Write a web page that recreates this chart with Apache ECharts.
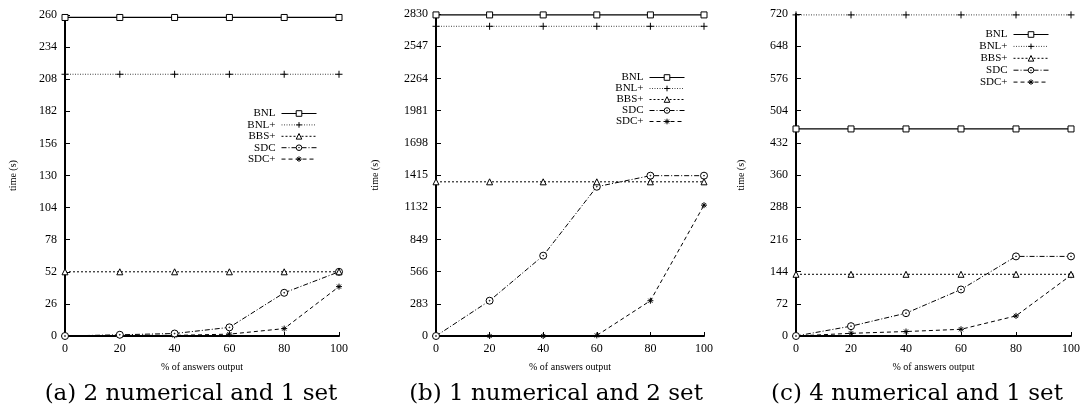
<!DOCTYPE html>
<html>
<head>
<meta charset="utf-8">
<script src="https://cdn.jsdelivr.net/npm/echarts@6/dist/echarts.min.js"></script>
<style>
html,body{margin:0;padding:0;background:#fff;}
#chart{width:1085px;height:414px;}
</style>
</head>
<body>
<div id="chart"></div>
<script>
// ---- data ----
const xValues = [0, 20, 40, 60, 80, 100];
const seriesNames = ['BNL', 'BNL+', 'BBS+', 'SDC', 'SDC+'];
const captions = ['(a) 2 numerical and 1 set', '(b) 1 numerical and 2 set', '(c) 4 numerical and 1 set'];
const xAxisTitle = '% of answers output';
const yAxisTitle = 'time (s)';

// panel (a)
const a_BNL  = [258, 258, 258, 258, 258, 258];
const a_BNLp = [212, 212, 212, 212, 212, 212];
const a_BBSp = [52, 52, 52, 52, 52, 52];
const a_SDC  = [0, 1, 2, 7, 35, 52];
const a_SDCp = [0, 0.5, 0.5, 1.5, 6, 40];
const a_yMax = 260, a_yStep = 26;

// panel (b)
const b_BNL  = [2822, 2822, 2822, 2822, 2822, 2822];
const b_BNLp = [2722, 2722, 2722, 2722, 2722, 2722];
const b_BBSp = [1355, 1355, 1355, 1355, 1355, 1355];
const b_SDC  = [0, 310, 706, 1312, 1409, 1409];
const b_SDCp = [0, 0, 0, 5, 310, 1150];
const b_yMax = 2830, b_yStep = 283;

// panel (c)
const c_BNL  = [463, 463, 463, 463, 463, 463];
const c_BNLp = [718, 718, 718, 718, 718, 718];
const c_BBSp = [138, 138, 138, 138, 138, 138];
const c_SDC  = [0, 22, 51, 104, 178, 178];
const c_SDCp = [0, 6, 10, 15, 45, 136];
const c_yMax = 720, c_yStep = 72;

// ---- styles ----
const SERIF = '"Liberation Serif", "Times New Roman", serif';
const symPlus = 'path://M5,0L5,10M0,5L10,5';
const symStar = 'path://M5,0L5,10M0,5L10,5M1.6,1.6L8.4,8.4M8.4,1.6L1.6,8.4';
const symCirc = 'path://M5,0A5,5,0,1,1,5,10A5,5,0,1,1,5,0ZM5,4.4A0.6,0.6,0,1,1,5,5.6A0.6,0.6,0,1,1,5,4.4Z';
const styles = [
  {symbol: 'rect', size: 6, line: {type: 'solid', width: 1.2, color: '#000'}},
  {symbol: symPlus, size: 7, line: {type: [1, 1.5], width: 1, color: '#444'}},
  {symbol: 'triangle', size: 6, line: {type: [2, 2], width: 1, color: '#000'}},
  {symbol: symCirc, size: 7, line: {type: [5, 2, 1, 2], width: 1, color: '#000'}},
  {symbol: symStar, size: 6, line: {type: [4, 3], width: 1, color: '#000'}}
];

const panels = [
  {data: [a_BNL, a_BNLp, a_BBSp, a_SDC, a_SDCp], yMax: a_yMax, yStep: a_yStep,
   grid: {left: 65, top: 15, width: 274, height: 321}, nameGap: 47,
   legend: {right: 768, top: 108, itemGap: 0.4}, capX: 186},
  {data: [b_BNL, b_BNLp, b_BBSp, b_SDC, b_SDCp], yMax: b_yMax, yStep: b_yStep,
   grid: {left: 436, top: 14, width: 268, height: 322}, nameGap: 56,
   legend: {right: 400, top: 72, itemGap: 0}, capX: 551},
  {data: [c_BNL, c_BNLp, c_BBSp, c_SDC, c_SDCp], yMax: c_yMax, yStep: c_yStep,
   grid: {left: 796, top: 14, width: 275, height: 322}, nameGap: 50,
   legend: {right: 36, top: 29, itemGap: 0.9}, capX: 912}
];

const option = {
  animation: false,
  backgroundColor: '#fff',
  grid: [], xAxis: [], yAxis: [], series: [], legend: [], title: []
};

panels.forEach((p, i) => {
  option.grid.push(Object.assign({containLabel: false}, p.grid));
  option.xAxis.push({
    type: 'value', gridIndex: i, min: 0, max: 100, interval: 20,
    name: xAxisTitle, nameLocation: 'middle', nameGap: 26,
    nameTextStyle: {fontFamily: SERIF, fontSize: 10, color: '#000'},
    axisLine: {show: true, onZero: false, lineStyle: {color: '#000', width: 2}},
    axisTick: {show: true, inside: true, length: 4, lineStyle: {color: '#000', width: 1}},
    axisLabel: {fontFamily: SERIF, fontSize: 12, color: '#000', margin: 7},
    splitLine: {show: false}
  });
  option.yAxis.push({
    type: 'value', gridIndex: i, min: 0, max: p.yMax, interval: p.yStep,
    name: yAxisTitle, nameLocation: 'middle', nameGap: p.nameGap, nameRotate: 90,
    nameTextStyle: {fontFamily: SERIF, fontSize: 10, color: '#000'},
    axisLine: {show: true, lineStyle: {color: '#000', width: 2}},
    axisTick: {show: true, inside: true, length: 5, lineStyle: {color: '#000', width: 1}},
    axisLabel: {fontFamily: SERIF, fontSize: 12, color: '#000', margin: 8, formatter: v => String(v)},
    splitLine: {show: false}
  });
  const names = [];
  p.data.forEach((vals, k) => {
    const st = styles[k];
    const nm = seriesNames[k] + '\u200b'.repeat(i);
    names.push(nm);
    option.series.push({
      type: 'line', name: nm, xAxisIndex: i, yAxisIndex: i,
      data: xValues.map((x, j) => [x, vals[j]]),
      symbol: st.symbol, symbolSize: st.size, showSymbol: true,
      clip: false, z: 10 - k,
      lineStyle: st.line,
      itemStyle: {color: '#fff', borderColor: '#000', borderWidth: 1}
    });
  });
  option.legend.push({
    data: names, orient: 'vertical', align: 'right',
    right: p.legend.right, top: p.legend.top,
    itemWidth: 35, itemHeight: 7, itemGap: p.legend.itemGap, padding: 0,
    selectedMode: false,
    lineStyle: {width: 1},
    itemStyle: {borderWidth: 1},
    textStyle: {fontFamily: SERIF, fontSize: 11, color: '#000', lineHeight: 11, padding: [0, 1, 0, 0]},
    formatter: n => n.replace(/\u200b/g, '')
  });
  option.title.push({
    text: captions[i], left: p.capX, top: 378, textAlign: 'center',
    textStyle: {fontFamily: '"DejaVu Serif", serif', fontSize: 23, fontWeight: 'normal', color: '#000'}
  });
});

const chart = echarts.init(document.getElementById('chart'), null, {renderer: 'canvas'});
chart.setOption(option);
</script>
</body>
</html>
